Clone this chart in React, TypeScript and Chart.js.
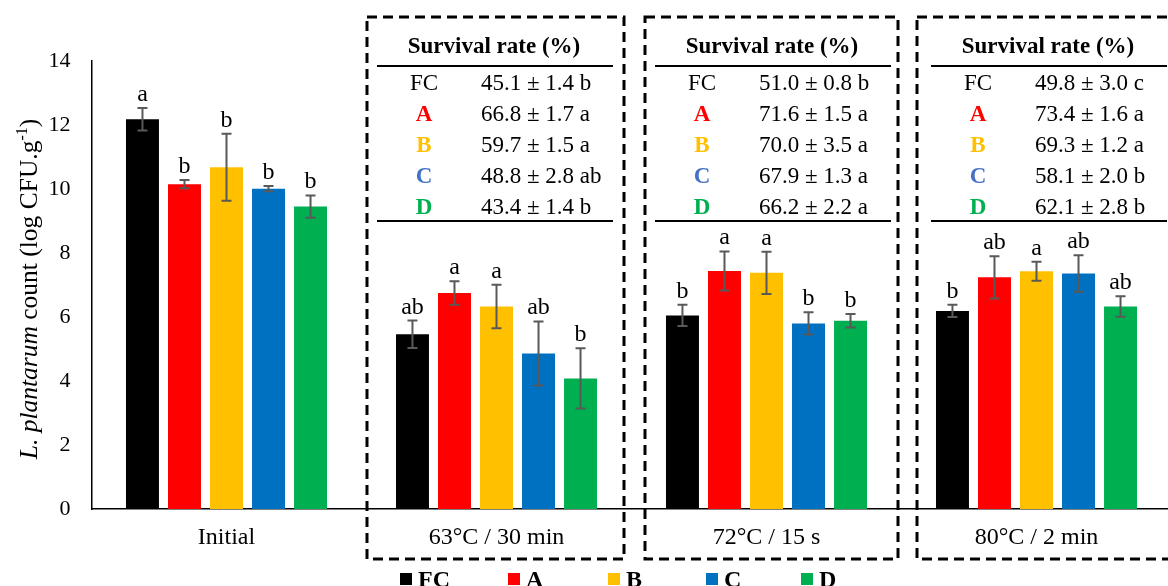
import React, { useEffect, useRef } from "react";
import { Chart, registerables } from "chart.js";

Chart.register(...registerables);

// ---------- data ----------
const categories = ["Initial", "63°C / 30 min", "72°C / 15 s", "80°C / 2 min"];
const seriesNames = ["FC", "A", "B", "C", "D"];
const seriesColors = ["#000000", "#FF0000", "#FFC000", "#0070C0", "#00B050"];
const tableLabelColors = ["#000000", "#FF0000", "#FFC000", "#4472C4", "#00B050"];

const fcValues = [12.18, 5.46, 6.05, 6.19];
const aValues = [10.15, 6.75, 7.44, 7.24];
const bValues = [10.68, 6.33, 7.38, 7.43];
const cValues = [10.01, 4.86, 5.8, 7.36];
const dValues = [9.45, 4.08, 5.88, 6.33];

const fcErrors = [0.35, 0.43, 0.33, 0.19];
const aErrors = [0.13, 0.37, 0.61, 0.66];
const bErrors = [1.05, 0.68, 0.66, 0.3];
const cErrors = [0.08, 1.0, 0.35, 0.57];
const dErrors = [0.35, 0.94, 0.21, 0.32];

const fcLetters = ["a", "ab", "b", "b"];
const aLetters = ["b", "a", "a", "ab"];
const bLetters = ["b", "a", "a", "a"];
const cLetters = ["b", "ab", "b", "ab"];
const dLetters = ["b", "b", "b", "ab"];

// survival rate tables (one per heat treatment: 63°C, 72°C, 80°C)
const survival63 = ["45.1 ± 1.4 b", "66.8 ± 1.7 a", "59.7 ± 1.5 a", "48.8 ± 2.8 ab", "43.4 ± 1.4 b"];
const survival72 = ["51.0 ± 0.8 b", "71.6 ± 1.5 a", "70.0 ± 3.5 a", "67.9 ± 1.3 a", "66.2 ± 2.2 a"];
const survival80 = ["49.8 ± 3.0 c", "73.4 ± 1.6 a", "69.3 ± 1.2 a", "58.1 ± 2.0 b", "62.1 ± 2.8 b"];

const yTicks = [0, 2, 4, 6, 8, 10, 12, 14];

// ---------- layout constants ----------
const SERIF = '"Liberation Serif", "Times New Roman", serif';
const CANVAS_W = 1180;
const CANVAS_H = 600;

const allValues = [fcValues, aValues, bValues, cValues, dValues];
const allErrors = [fcErrors, aErrors, bErrors, cErrors, dErrors];
const allLetters = [fcLetters, aLetters, bLetters, cLetters, dLetters];
const allSurvival = [survival63, survival72, survival80];

const boxLeftOff = [-129.5, -121.5, -119.5];
const boxRightOff = [127.5, 131.5, 145];
const tableLeftOff = [-119.5, -111.5, -105.5];
const legendX = [400, 508, 608, 706, 801];

const overlayPlugin = {
  id: "overlay",
  afterDatasetsDraw(chart: any) {
    const ctx = chart.ctx;
    const yS = chart.scales.y;
    ctx.save();
    chart.data.datasets.forEach((ds: any, i: number) => {
      const meta = chart.getDatasetMeta(i);
      meta.data.forEach((el: any, j: number) => {
        const v = allValues[i][j];
        const e = allErrors[i][j];
        const yT = yS.getPixelForValue(v + e);
        const yB = yS.getPixelForValue(v - e);
        const x = el.x;
        ctx.strokeStyle = "#595959";
        ctx.lineWidth = 2;
        ctx.beginPath();
        ctx.moveTo(x, yT);
        ctx.lineTo(x, yB);
        ctx.moveTo(x - 5, yT);
        ctx.lineTo(x + 5, yT);
        ctx.moveTo(x - 5, yB);
        ctx.lineTo(x + 5, yB);
        ctx.stroke();
        ctx.fillStyle = "#000";
        ctx.font = `24px ${SERIF}`;
        ctx.textAlign = "center";
        ctx.textBaseline = "alphabetic";
        ctx.fillText(allLetters[i][j], x, yT - 7);
      });
    });
    ctx.restore();
  },
  afterDraw(chart: any) {
    const ctx = chart.ctx;
    const xS = chart.scales.x;
    ctx.save();

    // dashed boxes + survival tables
    allSurvival.forEach((rows, t) => {
      const cx = xS.getPixelForValue(t + 1);
      const l = cx + boxLeftOff[t];
      const r = cx + boxRightOff[t];
      ctx.strokeStyle = "#000";
      ctx.lineWidth = 3;
      ctx.setLineDash([10, 6]);
      ctx.strokeRect(l, 17, r - l, 559 - 17);
      ctx.setLineDash([]);

      const tl = cx + tableLeftOff[t];
      ctx.lineWidth = 2;
      ctx.beginPath();
      ctx.moveTo(tl, 66);
      ctx.lineTo(tl + 236, 66);
      ctx.moveTo(tl, 221);
      ctx.lineTo(tl + 236, 221);
      ctx.stroke();

      ctx.fillStyle = "#000";
      ctx.font = `bold 23px ${SERIF}`;
      ctx.textAlign = "center";
      ctx.textBaseline = "middle";
      ctx.fillText("Survival rate (%)", tl + 117, 47);

      rows.forEach((txt, k) => {
        const y = 84 + k * 31;
        ctx.textAlign = "center";
        ctx.fillStyle = tableLabelColors[k];
        ctx.font = k === 0 ? `23px ${SERIF}` : `bold 23px ${SERIF}`;
        ctx.fillText(seriesNames[k], tl + 47, y);
        ctx.textAlign = "left";
        ctx.fillStyle = "#000";
        ctx.font = `23px ${SERIF}`;
        ctx.fillText(txt, tl + 104, y);
      });
    });

    // y axis title with mixed styles
    const segs = [
      { t: "L. plantarum", f: `italic 25.5px ${SERIF}`, dy: 0 },
      { t: " count (log CFU.g", f: `25.5px ${SERIF}`, dy: 0 },
      { t: "-1", f: `16px ${SERIF}`, dy: -10 },
      { t: ")", f: `25.5px ${SERIF}`, dy: 0 },
    ];
    let total = 0;
    segs.forEach((s) => {
      ctx.font = s.f;
      total += ctx.measureText(s.t).width;
    });
    ctx.translate(37, 289);
    ctx.rotate(-Math.PI / 2);
    ctx.textAlign = "left";
    ctx.textBaseline = "alphabetic";
    ctx.fillStyle = "#000";
    let xx = -total / 2;
    segs.forEach((s) => {
      ctx.font = s.f;
      ctx.fillText(s.t, xx, s.dy);
      xx += ctx.measureText(s.t).width;
    });
    ctx.setTransform(1, 0, 0, 1, 0, 0);

    // legend
    seriesNames.forEach((name, i) => {
      const x = legendX[i];
      ctx.fillStyle = seriesColors[i];
      ctx.fillRect(x, 573, 12, 12);
      ctx.fillStyle = "#000";
      ctx.font = `bold 24px ${SERIF}`;
      ctx.textAlign = "left";
      ctx.textBaseline = "alphabetic";
      ctx.fillText(name, x + 18, 587);
    });

    ctx.restore();
  },
};

export default function App() {
  const ref = useRef<HTMLCanvasElement>(null);
  useEffect(() => {
    if (!ref.current) return;
    const chart = new Chart(ref.current, {
      type: "bar",
      data: {
        labels: categories,
        datasets: seriesNames.map((n, i) => ({
          label: n,
          data: allValues[i],
          backgroundColor: seriesColors[i],
          borderWidth: 0,
          categoryPercentage: 0.778,
          barPercentage: 0.785,
        })),
      },
      options: {
        responsive: false,
        animation: false,
        devicePixelRatio: 1,
        layout: { padding: { left: 0, top: 61, right: CANVAS_W - 1171.5, bottom: 0 } },
        plugins: {
          legend: { display: false },
          tooltip: { enabled: false },
        },
        scales: {
          x: {
            grid: { display: false, drawTicks: false },
            border: { display: true, color: "#000", width: 1.5 },
            ticks: {
              color: "#000",
              font: { family: SERIF, size: 24 },
              padding: 14,
              maxRotation: 0,
              autoSkip: false,
            },
            afterFit(scale: any) {
              scale.height = CANVAS_H - 509;
            },
          },
          y: {
            min: 0,
            max: 14,
            afterBuildTicks(scale: any) {
              scale.ticks = yTicks.map((v) => ({ value: v }));
            },
            grid: { display: false, drawTicks: false },
            border: { display: true, color: "#000", width: 1.5 },
            ticks: {
              color: "#000",
              font: { family: SERIF, size: 22 },
              padding: 21,
            },
            afterFit(scale: any) {
              scale.width = 91.5;
            },
          },
        },
      },
      plugins: [overlayPlugin],
    });
    return () => chart.destroy();
  }, []);
  return (
    <div
      style={{
        position: "fixed",
        left: 0,
        top: 0,
        width: 1168,
        height: 586,
        overflow: "hidden",
        background: "#fff",
      }}
    >
      <canvas
        ref={ref}
        width={CANVAS_W}
        height={CANVAS_H}
        style={{ display: "block", width: CANVAS_W, height: CANVAS_H }}
      />
    </div>
  );
}
